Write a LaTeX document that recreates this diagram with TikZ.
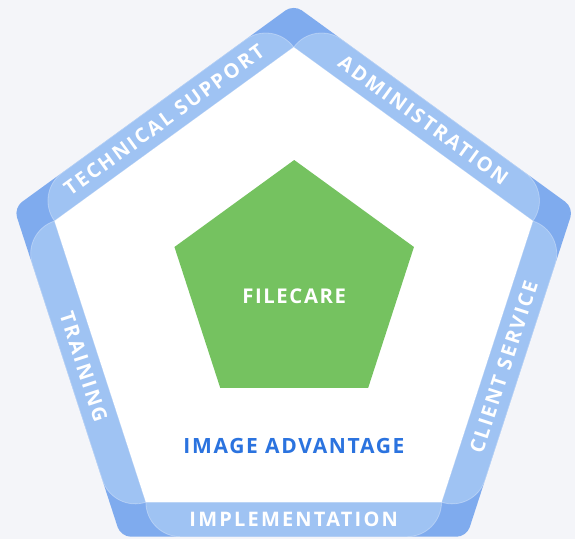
\documentclass[tikz,border=0pt]{standalone}
\usepackage{fontspec}
\setmainfont{Open Sans}
\newfontfamily\labfont[LetterSpace=8]{Open Sans}
\newfontfamily\bandfont[LetterSpace=11]{Open Sans}
\usetikzlibrary{calc}
\definecolor{bg}{HTML}{F4F5F9}
\definecolor{darkband}{HTML}{7FABEE}
\definecolor{lightband}{HTML}{9FC3F3}
\definecolor{leaf}{HTML}{75C260}
\definecolor{txtblue}{HTML}{2B73DF}
\tikzset{
  bandfill/.style={fill=lightband, draw=white, draw opacity=0.3, line width=0.8pt},
  bandtext/.style={text=white, font=\bandfont\bfseries\fontsize{20}{21}\selectfont, inner sep=0pt},
  centertext/.style={font=\labfont\bfseries\fontsize{21}{22}\selectfont, inner sep=0pt}
}
\begin{document}
\begin{tikzpicture}[x=1pt,y=1pt]
\useasboundingbox[fill=bg] (-293.7,-240.3) rectangle (281.3,298.7);
\def\Rin{251.5}
\def\Rout{294.2}
\def\bw{34.5}
% outer rounded pentagon
\fill[darkband, rounded corners=10pt] (90:\Rout) -- (162:\Rout) -- (234:\Rout) -- (306:\Rout) -- (18:\Rout) -- cycle;
% bands
\foreach \th in {90,162,234,306,18} {
  \pgfmathsetmacro\ph{\th+36}
  \pgfmathsetmacro\phA{\th+36+90}
  \pgfmathsetmacro\phB{\th+36-90}
  \pgfmathsetmacro\thB{\th+72}
  \path[bandfill] (\th:\Rin) -- (\thB:\Rin)
     arc[start angle=\phA, end angle=\ph, radius=\bw]
     -- ($(\th:\Rin)+(\phA:\bw)+(\ph:\bw)$)
     arc[start angle=\ph, end angle=\phB, radius=\bw] -- cycle;
}
% inner white pentagon
\fill[white] (90:\Rin) -- (162:\Rin) -- (234:\Rin) -- (306:\Rin) -- (18:\Rin) -- cycle;
% green pentagon
\begin{scope}[shift={(0.5,12.8)}]
\fill[leaf] (90:125.9) -- (162:125.9) -- (234:125.9) -- (306:125.9) -- (18:125.9) -- cycle;
\end{scope}
% labels
\node[bandtext, rotate=36] (ts) at (126:220.75) {TECHNICAL SUPPORT};
\node[bandtext, rotate=-36] (ad) at (54:220.75) {ADMINISTRATION};
\node[bandtext, rotate=72] (cs) at (342:220.75) {CLIENT SERVICE};
\node[bandtext, rotate=-72] (tr) at (198:220.75) {TRAINING};
\node[bandtext] (im) at (270:220.75) {IMPLEMENTATION};
\node[centertext, text=white, font=\labfont\bfseries\fontsize{20.3}{21}\selectfont] (fc) at (0.5,2) {FILECARE};
\node[centertext, text=txtblue] (ia) at (0.3,-147.1) {IMAGE ADVANTAGE};
\end{tikzpicture}
\end{document}
